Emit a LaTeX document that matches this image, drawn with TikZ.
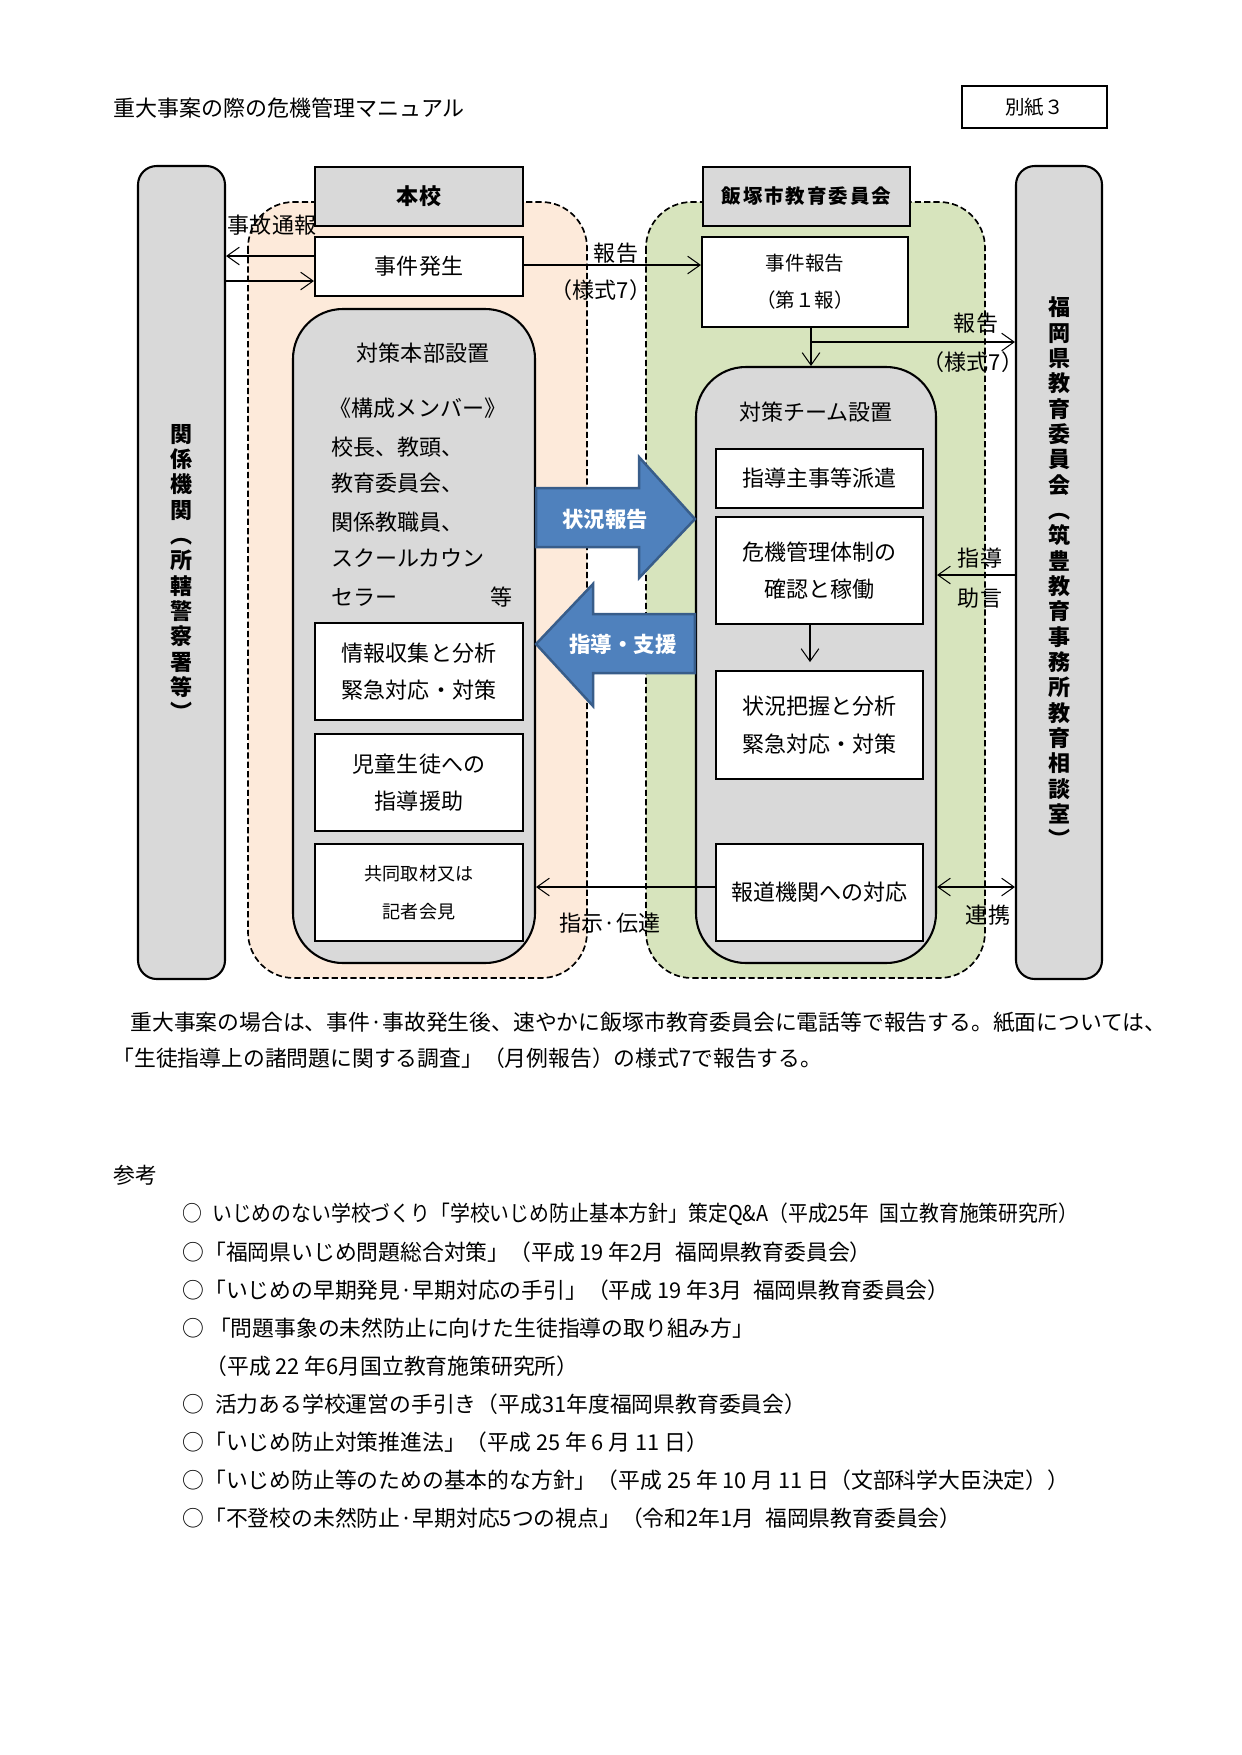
\documentclass[tikz,border=0pt]{standalone}
\usepackage{fontspec}
\setmainfont{Noto Sans CJK JP}
\usetikzlibrary{arrows.meta}
\definecolor{boxgray}{HTML}{D9D9D9}
\definecolor{schoolpeach}{HTML}{FDEADA}
\definecolor{citygreen}{HTML}{D7E4BD}
\definecolor{arrowblue}{HTML}{4F81BD}
\definecolor{arrowedge}{HTML}{385D8A}
\newcommand{\pxu}{0.4815pt}                            % 1px
\newcommand{\pxL}{\fontsize{10.6pt}{18pt}\selectfont}  % 22px
\newcommand{\pxM}{\fontsize{10.5pt}{18pt}\selectfont}  % 本文
\newcommand{\pxS}{\fontsize{9.4pt}{18pt}\selectfont}   % 19px
\newcommand{\pxXS}{\fontsize{8.7pt}{18pt}\selectfont}  % 18px
\newcommand{\pxV}{\fontsize{10.6pt}{12.2pt}\selectfont} % 縦書き

\begin{document}
\begin{tikzpicture}[x=0.16923mm, y=-0.16923mm,
    >={Straight Barb[length=6pt,width=8.5pt]},
    boxsize/.style 2 args={minimum width=#1*\pxu, minimum height=#2*\pxu},
    wbox/.style={draw, line width=1pt, fill=white, inner sep=0pt, align=center, font=\pxL},
    gbox/.style={draw, line width=1pt, fill=boxgray, inner sep=0pt, align=center, font=\pxL\bfseries},
    panel/.style={draw, line width=1pt, fill=boxgray, rounded corners=24pt, inner sep=0pt},
    bar/.style={draw, line width=1pt, fill=boxgray, rounded corners=9pt, inner sep=0pt, align=center, font=\pxV\bfseries},
    zone/.style={draw, line width=0.8pt, dash pattern=on 3pt off 1.5pt, rounded corners=22pt},
    conn/.style={line width=0.5pt, ->},
    lbl/.style={inner sep=0pt, font=\pxL},
    txt/.style={inner sep=0pt, anchor=west, font=\pxM},
    bigarrow/.style={draw=arrowedge, line width=1.2pt, fill=arrowblue},
    bigtext/.style={inner sep=0pt, text=white, font=\fontsize{10.3pt}{12pt}\selectfont\bfseries}]
    \useasboundingbox[fill=white] (0,0) rectangle (1241,1755);

    % 見出し
    \node[lbl, anchor=west] (title) at (113,108) {重大事案の際の危機管理マニュアル};
    \node[draw, line width=0.7pt, inner sep=0pt, boxsize={145}{42}, font=\pxS] (bessi) at (1034.5,107) {別紙３};

    % 背景の枠
    \draw[zone, fill=schoolpeach] (248,202) rectangle (587,978);
    \draw[zone, fill=citygreen] (646,202) rectangle (985,978);

    % 関係機関・県教委
    \node[bar, boxsize={87}{813}] (kankei) at (181.5,572.5) {関\\係\\機\\関\\︵\\所\\轄\\警\\察\\署\\等\\︶};
    \node[bar, boxsize={86}{813}] (kenkyoi) at (1059,572.5) {福\\岡\\県\\教\\育\\委\\員\\会\\︵\\筑\\豊\\教\\育\\事\\務\\所\\教\\育\\相\\談\\室\\︶};

    % 本校
    \node[gbox, boxsize={208}{59}] (honko) at (419,196.5) {本校};
    \node[wbox, boxsize={208}{59}] (hassei) at (419,266.5) {事件発生};
    \node[panel, boxsize={242}{654}] (honbu) at (414,636) {};
    \node[lbl] (honbut) at (423,353) {対策本部設置};
    \node[lbl] (mem0) at (418,408) {《構成メンバー》};
    \node[lbl, anchor=west] (mem1) at (331,447) {校長、教頭、};
    \node[lbl, anchor=west] (mem2) at (331,483) {教育委員会、};
    \node[lbl, anchor=west] (mem3) at (331,522) {関係教職員、};
    \node[lbl, anchor=west] (mem4) at (331,558) {スクールカウン};
    \node[lbl, anchor=west] (mem5) at (331,597) {セラー};
    \node[lbl] (mem6) at (502,597) {等};
    \node[wbox, boxsize={208}{97}] (joho) at (419,671.5) {情報収集と分析\\緊急対応・対策};
    \node[wbox, boxsize={208}{97}] (shido) at (419,782.5) {児童生徒への\\指導援助};
    \node[wbox, boxsize={208}{97}, font=\pxXS] (kisha) at (419,892.5) {共同取材又は\\記者会見};

    % 飯塚市教育委員会
    \node[gbox, boxsize={207}{59}, font=\pxS\bfseries\addfontfeature{LetterSpace=10}] (shikyoi) at (806.5,196.5) {飯塚市教育委員会};
    \node[wbox, boxsize={206}{90}, font=\pxS] (jiken) at (805,282) {事件報告\\（第１報）};
    \node[panel, boxsize={240}{596}] (team) at (816,665) {};
    \node[lbl] (teamt) at (816,412) {対策チーム設置};
    \node[wbox, boxsize={207}{59}] (haken) at (819.5,478.5) {指導主事等派遣};
    \node[wbox, boxsize={207}{107}] (kiki) at (819.5,570.5) {危機管理体制の\\確認と稼働};
    \node[wbox, boxsize={207}{108}] (haaku) at (819.5,725) {状況把握と分析\\緊急対応・対策};
    \node[wbox, boxsize={207}{97}] (hodo) at (819.5,892.5) {報道機関への対応};

    % 事故通報
    \draw[conn] (hassei.west |- 0,256) -- (kankei.east |- 0,256);
    \draw[conn] (kankei.east |- 0,281) -- (hassei.west |- 0,281);
    \node[lbl] (tsuho) at (272,225) {事故通報};
    % 報告（様式7）
    \draw[conn] (hassei.east |- 0,265) -- (jiken.west |- 0,265);
    \node[lbl] (hokoku1) at (616,253) {報告};
    \node[lbl] (yoshiki1) at (601,290) {（様式7）};
    \draw[conn] (811,0 |- jiken.south) -- (811,0 |- team.north);
    \coordinate (bunki) at (811,342);
    \draw[conn] (bunki) -- (kenkyoi.west |- bunki);
    \node[lbl] (hokoku2) at (976,323) {報告};
    \node[lbl] (yoshiki2) at (973,362) {（様式7）};

    % 状況報告・指導支援
    \draw[bigarrow] (honbu.east |- 0,488) -- (639,488) -- (639,457) -- (team.west |- 0,519)
        -- (639,578) -- (639,547) -- (honbu.east |- 0,547) -- cycle;
    \node[bigtext] (jokyo) at (605,519) {状況報告};
    \draw[bigarrow] (team.west |- 0,614) -- (593,614) -- (593,584) -- (honbu.east |- 0,644)
        -- (593,706) -- (593,673) -- (team.west |- 0,673) -- cycle;
    \node[bigtext] (shien) at (623,644) {指導・支援};

    % チーム内
    \draw[conn, shorten >=3.8pt] (kiki.south -| 810,0) -- (haaku.north -| 810,0);
    % 指導・助言
    \draw[conn] (kenkyoi.west |- 0,575) -- (team.east |- 0,575);
    \node[lbl] (shido2) at (980,558) {指導};
    \node[lbl] (jogen) at (980,598) {助言};
    % 指示・伝達
    \draw[conn] (hodo.west |- 0,887) -- (honbu.east |- 0,887);
    \node[lbl] (shiji) at (610,923) {指示·伝達};
    % 連携
    \draw[conn, <->] (team.east |- 0,887) -- (kenkyoi.west |- 0,887);
    \node[lbl] (renkei) at (988,915) {連携};

    % 本文
    \node[txt] (p1) at (130,1022) {重大事案の場合は、事件·事故発生後、速やかに飯塚市教育委員会に電話等で報告する。紙面については、};
    \node[txt] (p2) at (112,1058) {「生徒指導上の諸問題に関する調査」（月例報告）の様式7で報告する。};

    % 参考
    \node[txt] (sanko) at (113,1175) {参考};
    \node[txt] (r1) at (182,1214) {\scalebox{0.91}[1]{○\hspace{0.5em}いじめのない学校づくり「学校いじめ防止基本方針」策定Q\&A（平成25年\hspace{0.5em}国立教育施策研究所）}};
    \node[txt] (r2) at (182,1252) {○「福岡県いじめ問題総合対策」（平成 19 年2月\hspace{0.5em}福岡県教育委員会）};
    \node[txt] (r3) at (182,1290) {○「いじめの早期発見·早期対応の手引」（平成 19 年3月\hspace{0.5em}福岡県教育委員会）};
    \node[txt] (r4) at (182,1328) {○ 「問題事象の未然防止に向けた生徒指導の取り組み方」};
    \node[txt] (r5) at (205,1366) {（平成 22 年6月国立教育施策研究所）};
    \node[txt] (r6) at (182,1404) {○\hspace{0.5em}活力ある学校運営の手引き（平成31年度福岡県教育委員会）};
    \node[txt] (r7) at (182,1442) {○「いじめ防止対策推進法」（平成 25 年 6 月 11 日）};
    \node[txt] (r8) at (182,1480) {○「いじめ防止等のための基本的な方針」（平成 25 年 10 月 11 日（文部科学大臣決定））};
    \node[txt] (r9) at (182,1518) {○「不登校の未然防止·早期対応5つの視点」（令和2年1月\hspace{0.5em}福岡県教育委員会）};
\end{tikzpicture}
\end{document}
